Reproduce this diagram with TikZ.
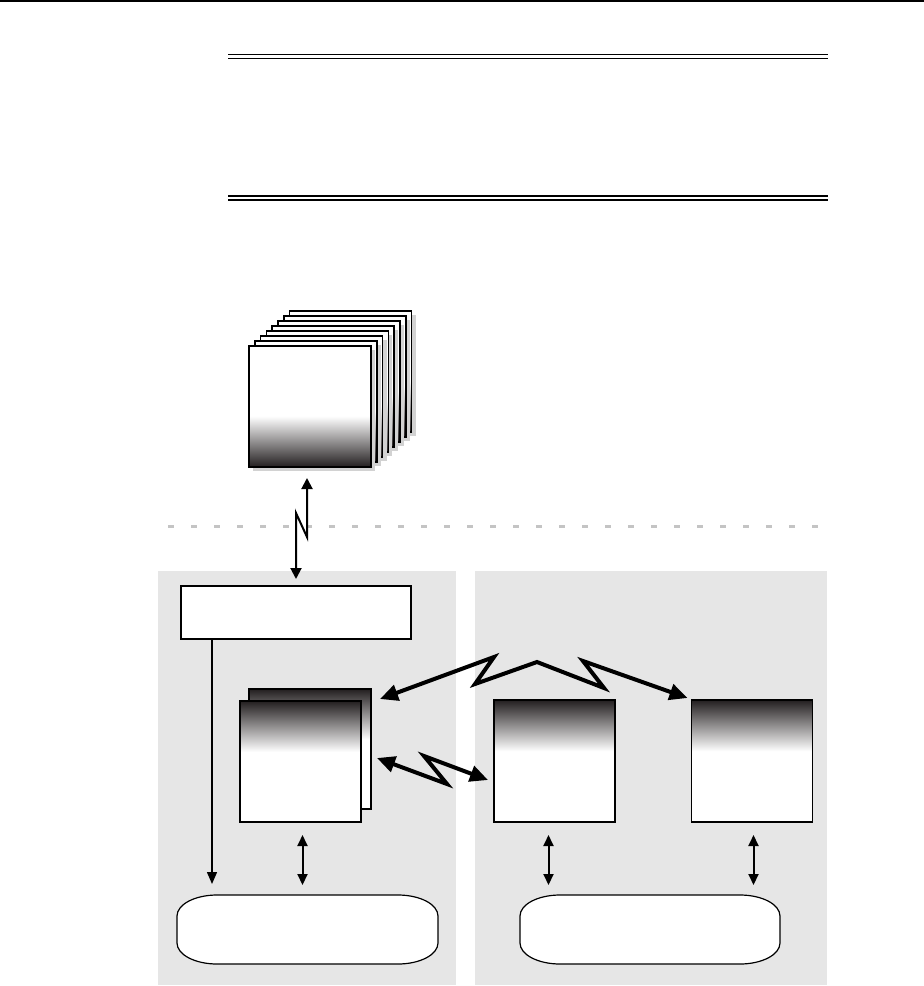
\documentclass[tikz,border=0pt]{standalone}
\usetikzlibrary{arrows.meta,calc,shadows}
\definecolor{gdark}{HTML}{231F20}
\definecolor{panelgray}{HTML}{E6E6E6}
\definecolor{dotgray}{HTML}{C4C4C4}
\definecolor{shadowgray}{HTML}{D2D2D2}
\pgfdeclareverticalshading{topdark}{100bp}{color(0bp)=(white); color(25bp)=(white); color(54bp)=(white); color(75bp)=(gdark); color(100bp)=(gdark)}
\pgfdeclareverticalshading{botdark}{100bp}{color(0bp)=(gdark); color(25bp)=(gdark); color(46bp)=(white); color(75bp)=(white); color(100bp)=(white)}
\newcommand\dbshape[1]{\draw[fill=white, line width=1.2pt]
  ($(#1.north west)+(0,21)$) arc[start angle=180,end angle=90,x radius=40pt,y radius=21pt]
  -- ($(#1.north east)+(-40,0)$) arc[start angle=90,end angle=0,x radius=40pt,y radius=21pt]
  -- ($(#1.south east)+(0,-21)$) arc[start angle=0,end angle=-90,x radius=40pt,y radius=21pt]
  -- ($(#1.south west)+(40,0)$) arc[start angle=270,end angle=180,x radius=40pt,y radius=21pt]
  -- cycle;}
\begin{document}
\begin{tikzpicture}[x=1pt,y=-1pt,
  box/.style={draw=black, line width=1.6pt, fill=white, inner sep=0pt, outer sep=0pt},
  stackbox/.style={box, shading=botdark, minimum width=122pt, minimum height=121pt,
     drop shadow={shadow xshift=4pt, shadow yshift=-4pt, fill=shadowgray, opacity=1}},
  sqbox/.style={box, shading=topdark, minimum width=121pt, minimum height=121pt},
  dbnode/.style={inner sep=0pt, outer sep=0pt, minimum width=261pt, minimum height=69pt},
  thinarrow/.style={line width=1.5pt, -{Triangle[length=12pt,width=10pt]}},
  dblarrow/.style={line width=2pt, {Triangle[length=11pt,width=10pt]}-{Triangle[length=11pt,width=10pt]}},
  zigarrow/.style={line width=2pt, line join=miter, {Triangle[length=11pt,width=11pt]}-{Triangle[length=11pt,width=11pt]}},
  bolt/.style={line width=4pt, line join=miter, miter limit=4, {Triangle[length=18pt,width=16pt]}-{Triangle[length=18pt,width=16pt]}}
]
\useasboundingbox (0,0) rectangle (924,986);

% rules at the top
\draw[line width=1.5pt] (0,1) -- (924,1);
\draw[line width=1.3pt] (228,54.5) -- (828,54.5);
\draw[line width=1.3pt] (228,58.5) -- (828,58.5);
\draw[line width=1.3pt] (228,196) -- (828,196);
\draw[line width=1.3pt] (228,200) -- (828,200);

% dotted separator
\draw[dotgray, line width=3pt, dash pattern=on 6pt off 17pt] (168,526.5) -- (824,526.5);

% panels
\fill[panelgray] (158,571) rectangle (456,985);
\fill[panelgray] (475,571) rectangle (827,985);

% stack of boxes
\foreach \k in {7,6,...,0}{
  \node[stackbox] (sb\k) at ({310+5.8*\k},{406.5-5*\k}) {};
}

% top box in left panel
\node[box, minimum width=230pt, minimum height=53pt] (gw) at (296,612.5) {};

% squares
\node[sqbox, minimum width=122pt, minimum height=120pt] (sqAb) at (310,749) {};
\node[sqbox] (sqAf) at (300.5,761.5) {};
\node[sqbox, minimum height=122pt] (sqB) at (554.5,761) {};
\node[sqbox, minimum height=122pt] (sqC) at (752,761) {};

% rounded boxes
\node[dbnode] (dbL) at (307.5,929.5) {};
\node[dbnode, minimum width=260pt] (dbR) at (650,929.5) {};
\dbshape{dbL}
\dbshape{dbR}

% connector from stack to top box
\draw[zigarrow] ($(sb0.south)+(-3,11)$) -- ++(0,59) -- ++(-11,-24) -- ($(gw.north)+(0,-7)$);

% vertical line from top box
\draw[thinarrow] ($(gw.south west)+(31,0)$) -- ($(gw.south west |- dbL.north)+(31,-11)$);

% small double arrows
\draw[dblarrow] ($(sqAf.south)+(2,13)$) -- ($(sqAf.south |- dbL.north)+(2,-10)$);
\draw[dblarrow] ($(sqB.south)+(-6,13)$) -- ($(sqB.south |- dbR.north)+(-6,-10)$);
\draw[dblarrow] ($(sqC.south)+(1.5,13)$) -- ($(sqC.south |- dbR.north)+(1.5,-10)$);

% lightning arrows
\draw[bolt] ($(sqAb.north east)+(9,10)$) -- (494,657) -- (475,684) -- (537,662) -- (604,688) -- (583,661) -- ($(sqC.north west)+(-4,-2)$);
\draw[bolt] ($(sqAb.east)+(6,9)$) -- (447,784) -- (424,756) -- ($(sqB.west)+(-6,19)$);

\end{tikzpicture}
\end{document}
